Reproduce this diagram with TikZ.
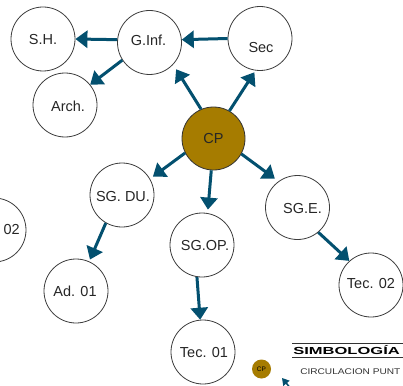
\documentclass[tikz,border=0pt]{standalone}
\usepackage{fontspec}
\setmainfont{Liberation Sans}
\usetikzlibrary{arrows.meta}
\definecolor{arrowc}{RGB}{3,80,111}
\definecolor{cpfill}{RGB}{166,124,0}
\definecolor{circline}{RGB}{60,60,60}
\begin{document}
\begin{tikzpicture}[x=1pt,y=1pt,
  circ/.style={circle,draw=circline,line width=0.8pt,fill=white,minimum size=64pt,inner sep=0pt},
  cpnode/.style={circle,draw=black!80,line width=0.8pt,fill=cpfill,minimum size=63pt,inner sep=0pt},
  lbl/.style={font=\fontsize{14.5}{16}\selectfont,text=black!85,inner sep=0pt},
  flow/.style={draw=arrowc,line width=3pt,-{Triangle[length=12pt,width=17pt]}}]
\useasboundingbox (0,0) rectangle (403,-385);
\clip (0,0) rectangle (403,-385);
\fill[white] (0,0) rectangle (403,-385);
% circles
\node[circ] (sh)   at (43,-39) {};
\node[circ] (arch) at (65,-105) {};
\node[circ] (ginf) at (149.5,-42.5) {};
\node[circ] (sec)  at (260,-38.5) {};
\node[cpnode] (cp) at (213.5,-138.5) {};
\node[circ] (sgdu) at (122,-195) {};
\node[circ] (sgop) at (202,-245) {};
\node[circ] (sge)  at (297.5,-207.5) {};
\node[circ] (ad2)  at (-6,-230) {};
\node[circ] (ad1)  at (76,-291) {};
\node[circ] (tec1) at (203,-352) {};
\node[circ] (tec2) at (371,-285) {};
% labels
\node[lbl] (tsh)   at (43,-40) {S.H.};
\node[lbl] (tarch) at (68,-106) {Arch.};
\node[lbl] (tginf) at (148.5,-40.5) {G.Inf.};
\node[lbl] (tsec)  at (261,-48) {Sec};
\node[lbl] (tcp)   at (213.5,-139) {CP};
\node[lbl] (tsgdu) at (123,-197) {SG. DU.};
\node[lbl] (tsgop) at (205,-245.5) {SG.OP.};
\node[lbl] (tsge)  at (302.5,-209) {SG.E.};
\node[lbl,anchor=east] (tad2) at (20,-230) {02};
\node[lbl] (tad1)  at (75,-291) {Ad. 01};
\node[lbl] (ttec1) at (204,-353) {Tec. 01};
\node[lbl] (ttec2) at (371,-284) {Tec. 02};
% connectors
\draw[flow] (ginf.175) -- (sh.0);
\draw[flow] (ginf.213) -- (arch.39);
\draw[flow] (sec.180) -- (ginf.5);
\draw[flow,shorten >=5.5pt] (cp.113) -- (ginf.-43);
\draw[flow,shorten >=2pt] (cp.60) -- (sec.-98);
\draw[flow,shorten >=3.5pt] (cp.207) -- (sgdu.30);
\draw[flow,shorten >=3.5pt] (cp.-94) -- (sgop.80);
\draw[flow,shorten >=4.5pt] (cp.-29) -- (sge.126);
\draw[flow,shorten >=2pt] (sgdu.-120) -- (ad1.66);
\draw[flow] (sgop.-99) -- (tec1.95);
\draw[flow] (sge.-50) -- (tec2.132);
% legend
\coordinate (l1a) at (292,-343);
\coordinate (l1b) at (410,-343);
\coordinate (l2a) at (292,-357.5);
\coordinate (l2b) at (410,-357.5);
\draw[line width=1pt,black!80] (l1a) -- (l1b);
\draw[line width=1pt,black!80] (l2a) -- (l2b);
\node[anchor=west,inner sep=0pt,xscale=1.62,font=\fontsize{10.2}{11}\bfseries\selectfont] (simb) at (293,-350.5) {SIMBOLOGÍA};
\node[circle,fill=cpfill,minimum size=19pt,inner sep=0pt] (cpleg) at (261.5,-369) {};
\node[inner sep=0pt,font=\fontsize{6.5}{7}\selectfont] (cplegt) at (261.5,-369.5) {CP};
\node[anchor=west,inner sep=0pt,xscale=1.22,font=\fontsize{8.3}{9}\selectfont,text=black!80] (circ) at (300,-372) {CIRCULACION PUNT};
\coordinate (sa) at (292,-390);
\coordinate (sb) at (282,-378);
\draw[draw=arrowc,line width=1.5pt,-{Triangle[length=7pt,width=8pt]}] (sa) -- (sb);
\end{tikzpicture}
\end{document}
